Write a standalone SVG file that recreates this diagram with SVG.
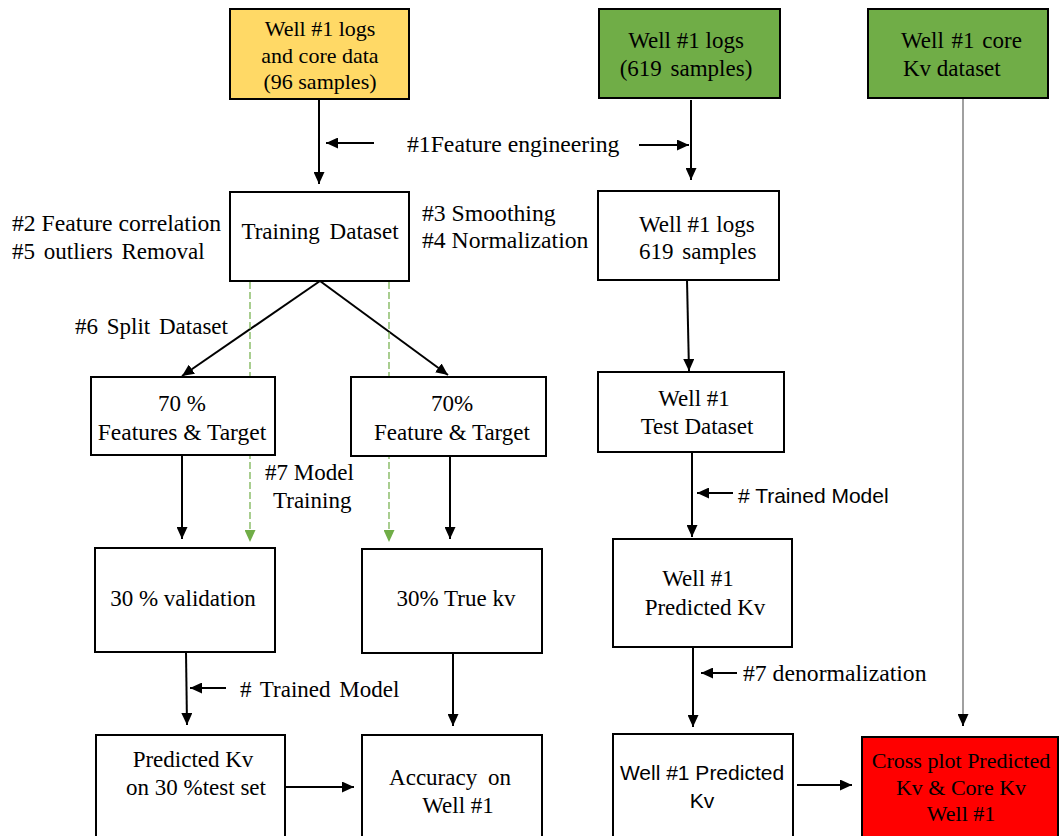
<svg xmlns="http://www.w3.org/2000/svg" width="1060" height="836" viewBox="0 0 1060 836">
<style>
.box{stroke:#000;stroke-width:2;fill:#fff}
.t{font-family:'Liberation Serif','Times New Roman',serif;font-size:23px;fill:#000}
.l{font-size:23.7px}
.s{font-family:'Liberation Sans',Arial,sans-serif;font-size:21px;fill:#000}
.m{text-anchor:middle}
.c{stroke:#000;stroke-width:2;fill:none;marker-end:url(#ah)}
.g{stroke:#70AD47;stroke-width:1.2;stroke-dasharray:7 3;fill:none;marker-end:url(#gh)}
</style>
<defs>
<marker id="ah" markerWidth="12" markerHeight="11" refX="12" refY="5.5" orient="auto" markerUnits="userSpaceOnUse"><path d="M0,0 L12,5.5 L0,11 z" fill="#000"/></marker>
<marker id="gh" markerWidth="12" markerHeight="11" refX="12" refY="5.5" orient="auto" markerUnits="userSpaceOnUse"><path d="M0,0 L12,5.5 L0,11 z" fill="#70AD47"/></marker>
</defs>
<rect width="1060" height="836" fill="#fff"/>

<g id="connectors">
<line class="c" x1="319" y1="99" x2="319" y2="184"/>
<line class="c" x1="374" y1="143" x2="326" y2="143"/>
<line class="c" x1="639" y1="145" x2="689" y2="145"/>
<line class="c" x1="691" y1="100" x2="691" y2="180"/>
<line x1="963" y1="99" x2="963" y2="715" stroke="#808080" stroke-width="1.5"/>
<line class="c" x1="963" y1="714" x2="963" y2="726" stroke-width="1.5"/>
<line class="c" x1="320" y1="281" x2="182" y2="376"/>
<line class="c" x1="320" y1="281" x2="448" y2="375"/>
<line class="g" x1="250" y1="282" x2="250" y2="542"/>
<line class="g" x1="389" y1="282" x2="389" y2="542"/>
<line class="c" x1="687" y1="280" x2="689" y2="371"/>
<line class="c" x1="182" y1="455" x2="182" y2="539"/>
<line class="c" x1="450" y1="456" x2="450" y2="539"/>
<line class="c" x1="692" y1="452" x2="692" y2="537"/>
<line class="c" x1="733" y1="493" x2="697" y2="493"/>
<line class="c" x1="186" y1="652" x2="187" y2="725"/>
<line class="c" x1="226" y1="688" x2="190" y2="688"/>
<line class="c" x1="453" y1="653" x2="453" y2="726"/>
<line class="c" x1="693" y1="647" x2="693" y2="727"/>
<line class="c" x1="737" y1="673" x2="701" y2="673"/>
<line class="c" x1="286" y1="787" x2="354" y2="787"/>
<line class="c" x1="797" y1="785" x2="852" y2="785"/>
</g>

<g id="labels">
<text class="t l" x="407" y="152">#1Feature engineering</text>
<text class="t l" x="12" y="231">#2 Feature correlation</text>
<text class="t" x="12" y="259" style="word-spacing:3px">#5 outliers Removal</text>
<text class="t l" x="422" y="221">#3 Smoothing</text>
<text class="t l" x="422" y="248">#4 Normalization</text>
<text class="t" x="75" y="334" style="word-spacing:3px">#6 Split Dataset</text>
<text class="t" x="265" y="480">#7 Model</text>
<text class="t" x="273" y="508">Training</text>
<text class="s" x="738" y="503"># Trained Model</text>
<text class="t" x="240" y="697" style="word-spacing:3px"># Trained Model</text>
<text class="t l" x="743" y="681">#7 denormalization</text>
</g>

<g id="n-yellow">
<rect class="box" x="230" y="9" width="179" height="90" style="fill:#FFD966"/>
<text class="t m" x="320" y="36" style="font-size:22px">Well #1 logs</text>
<text class="t m" x="320" y="63" style="font-size:22px">and core data</text>
<text class="t m" x="320" y="89" style="font-size:22px">(96 samples)</text>
</g>
<g id="n-green1">
<rect class="box" x="599" y="9" width="181" height="89" style="fill:#70AD47"/>
<text class="t m" x="686" y="48">Well #1 logs</text>
<text class="t m" x="686" y="76" style="word-spacing:3px">(619 samples)</text>
</g>
<g id="n-green2">
<rect class="box" x="868" y="9" width="180" height="89" style="fill:#70AD47"/>
<text class="t" x="901" y="48" style="word-spacing:2px">Well #1 core</text>
<text class="t" x="903" y="76">Kv dataset</text>
</g>
<g id="n-training">
<rect class="box" x="230" y="192" width="179" height="89"/>
<text class="t m" x="320" y="239" style="word-spacing:4px">Training Dataset</text>
</g>
<g id="n-logs">
<rect class="box" x="598" y="191" width="181" height="89"/>
<text class="t" x="639" y="232">Well #1 logs</text>
<text class="t" x="639" y="259" style="word-spacing:3px">619 samples</text>
</g>
<g id="n-left70">
<rect class="box" x="91" y="377" width="184" height="78"/>
<text class="t m" x="182" y="411">70 %</text>
<text class="t m" x="182" y="440" style="font-size:23.5px">Features &amp; Target</text>
</g>
<g id="n-right70">
<rect class="box" x="351" y="377" width="195" height="79"/>
<text class="t m" x="452" y="411">70%</text>
<text class="t m" x="452" y="440">Feature &amp; Target</text>
</g>
<g id="n-test">
<rect class="box" x="598" y="372" width="186" height="80"/>
<text class="t m" x="694" y="406">Well #1</text>
<text class="t m" x="697" y="434">Test Dataset</text>
</g>
<g id="n-val">
<rect class="box" x="95" y="548" width="180" height="104"/>
<text class="t m" x="183" y="606">30 % validation</text>
</g>
<g id="n-truekv">
<rect class="box" x="362" y="549" width="180" height="104"/>
<text class="t m" x="456" y="606">30% True kv</text>
</g>
<g id="n-predmid">
<rect class="box" x="613" y="539" width="179" height="108"/>
<text class="t m" x="698" y="586">Well #1</text>
<text class="t m" x="705" y="615">Predicted Kv</text>
</g>
<g id="n-predkv">
<rect class="box" x="96" y="735" width="189" height="120"/>
<text class="t m" x="193" y="767">Predicted Kv</text>
<text class="t m" x="196" y="795">on 30 %test set</text>
</g>
<g id="n-acc">
<rect class="box" x="362" y="735" width="180" height="120"/>
<text class="t m" x="450" y="785" style="word-spacing:5px">Accuracy on</text>
<text class="t m" x="458" y="813">Well #1</text>
</g>
<g id="n-predbot">
<rect class="box" x="613" y="734" width="180" height="120"/>
<text class="s m" x="702" y="780">Well #1 Predicted</text>
<text class="s m" x="702" y="808">Kv</text>
</g>
<g id="n-red">
<rect class="box" x="862" y="737" width="196" height="120" style="fill:#FF0000"/>
<text class="t m" x="961" y="768" style="font-size:22px">Cross plot Predicted</text>
<text class="t m" x="961" y="795" style="font-size:22px">Kv &amp; Core Kv</text>
<text class="t m" x="961" y="821" style="font-size:22px">Well #1</text>
</g>
</svg>
